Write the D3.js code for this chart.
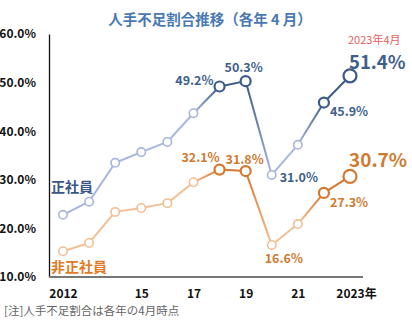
<!DOCTYPE html>
<html><head><meta charset="utf-8">
<script src="https://cdn.jsdelivr.net/npm/d3@7"></script>
<style>
body{margin:0;background:#fff;}
text{font-family:"Noto Sans CJK JP","Noto Sans",sans-serif;}
</style></head>
<body><svg id="c" width="412" height="326"></svg>
<script>
const years = [2012,2013,2014,2015,2016,2017,2018,2019,2020,2021,2022,2023];
const seishain = [22.8,25.5,33.5,35.7,37.8,43.7,49.2,50.3,31.0,37.2,45.9,51.4];
const hiseishain = [15.3,17.0,23.4,24.2,25.2,29.5,32.1,31.8,16.6,20.9,27.3,30.7];
const xTicks = [2012,2015,2017,2019,2021,2023];
const yTicks = [10,20,30,40,50,60];
const highlightYears = [2018,2019,2022,2023];

const svg = d3.select("#c");
const x = d3.scaleLinear().domain([2012,2023]).range([63,350]);
const y = d3.scaleLinear().domain([10,60]).range([277,34]);

// title
svg.append("text").attr("x",210).attr("y",25).attr("text-anchor","middle")
  .attr("font-size",14.5).attr("font-weight","bold").attr("fill","#4a79b4")
  .text("人手不足割合推移（各年 4 月）");

// y axis
const ya = svg.append("g").attr("transform","translate(49,0)")
  .call(d3.axisLeft(y).tickValues(yTicks).tickSize(0).tickPadding(13).tickFormat(d=>d.toFixed(1)+"%"));
ya.select(".domain").attr("stroke","#111").attr("stroke-width",1.3);
ya.selectAll("text").attr("font-size",12).attr("font-weight","bold").attr("fill","#111")
  .attr("font-family","'Noto Sans',sans-serif");

// x axis
const xa = svg.append("g").attr("transform","translate(0,277)")
  .call(d3.axisBottom(x).tickValues(xTicks).tickSize(0).tickPadding(12)
    .tickFormat(d=> d===2012 ? "2012" : d===2023 ? "2023年" : String(d%100)));
xa.select(".domain").attr("d","M49,0H363").attr("stroke","#777").attr("stroke-width",2.2);
xa.selectAll("text").attr("font-size",12).attr("font-weight","bold").attr("fill","#111")
  .attr("font-family","'Noto Sans CJK JP',sans-serif")
  .attr("dx",d=>d===2023?6:0);

const defs = svg.append("defs");

function drawSeries(vals, light, dark, key){
  const col = yr => highlightYears.includes(yr) ? dark : light;
  for(let i=0;i<years.length-1;i++){
    const x1=x(years[i]), y1=y(vals[i]), x2=x(years[i+1]), y2=y(vals[i+1]);
    const id = key+"g"+i;
    const g = defs.append("linearGradient").attr("id",id).attr("gradientUnits","userSpaceOnUse")
      .attr("x1",x1).attr("y1",y1).attr("x2",x2).attr("y2",y2);
    g.append("stop").attr("offset","0%").attr("stop-color",col(years[i]));
    g.append("stop").attr("offset","100%").attr("stop-color",col(years[i+1]));
    svg.append("line").attr("x1",x1).attr("y1",y1).attr("x2",x2).attr("y2",y2)
      .attr("stroke",`url(#${id})`).attr("stroke-width",2);
  }
  svg.selectAll("circle."+key).data(years.map((yr,i)=>({yr,v:vals[i]}))).enter()
    .append("circle").attr("class",key)
    .attr("cx",d=>x(d.yr)).attr("cy",d=>y(d.v))
    .attr("r",d=>d.yr===2023?6.5:highlightYears.includes(d.yr)?5:4.2)
    .attr("fill","#fff").attr("stroke",d=>col(d.yr))
    .attr("stroke-width",d=>highlightYears.includes(d.yr)?2.2:1.6);
}
drawSeries(seishain,"#a7b6de","#3d5b86","s");
drawSeries(hiseishain,"#f4bf94","#d5772e","h");

const blueT = "#3f5f8c", orangeT = "#d07a30";
function lbl(xp,yp,t,c,size,anchor){
  svg.append("text").attr("x",xp).attr("y",yp).attr("text-anchor",anchor||"start")
    .attr("font-size",size||12.5).attr("font-weight","bold").attr("fill",c)
    .attr("font-family","'Noto Sans',sans-serif").text(t);
}
const fmt = v => v.toFixed(1)+"%";
const si = yr => years.indexOf(yr);
// blue labels
lbl(x(2018)-6, y(seishain[si(2018)])-1, fmt(seishain[si(2018)]), blueT, 12.5, "end");
lbl(x(2019)-2, y(seishain[si(2019)])-9, fmt(seishain[si(2019)]), blueT, 12.5, "middle");
lbl(x(2020)+8, y(seishain[si(2020)])+7, fmt(seishain[si(2020)]), blueT, 12.5, "start");
lbl(x(2022)+6, y(seishain[si(2022)])+13, fmt(seishain[si(2022)]), blueT, 12.5, "start");
lbl(x(2023)-1, y(seishain[si(2023)])-7, fmt(seishain[si(2023)]), blueT, 18.5, "start");
svg.append("text").attr("x",x(2023)-2).attr("y",y(seishain[si(2023)])-32)
  .attr("font-size",11).attr("fill","#e35d5d").attr("font-family","'Noto Sans CJK JP',sans-serif")
  .text("2023年4月");
// orange labels
lbl(x(2018)-19, y(hiseishain[si(2018)])-8, fmt(hiseishain[si(2018)]), orangeT, 12.5, "middle");
lbl(x(2019)-1, y(hiseishain[si(2019)])-7, fmt(hiseishain[si(2019)]), orangeT, 12.5, "middle");
lbl(x(2020)-7, y(hiseishain[si(2020)])+18, fmt(hiseishain[si(2020)]), orangeT, 12.5, "start");
lbl(x(2022)+6, y(hiseishain[si(2022)])+14, fmt(hiseishain[si(2022)]), orangeT, 12.5, "start");
lbl(x(2023)-1, y(hiseishain[si(2023)])-9, fmt(hiseishain[si(2023)]), orangeT, 19, "start");

// series names
svg.append("text").attr("x",51).attr("y",192).attr("font-size",14).attr("font-weight","bold")
  .attr("fill","#3b5784").text("正社員");
svg.append("text").attr("x",51).attr("y",272).attr("font-size",14).attr("font-weight","bold")
  .attr("fill","#e07a26").text("非正社員");

// footnote
svg.append("text").attr("x",4).attr("y",315).attr("font-size",11.5).attr("fill","#666")
  .text("[注]人手不足割合は各年の4月時点");
</script></body></html>
